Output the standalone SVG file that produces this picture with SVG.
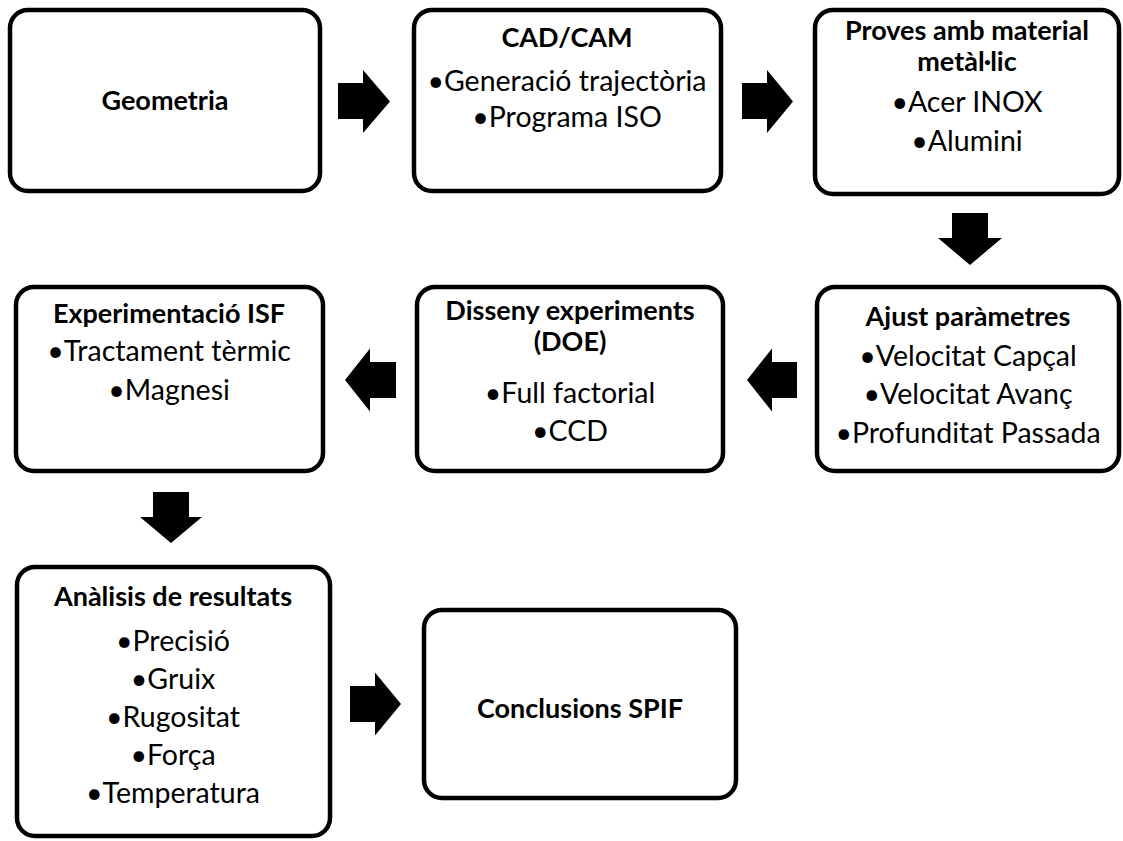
<svg xmlns="http://www.w3.org/2000/svg" width="1123" height="841" viewBox="0 0 1123 841">
<style>
.box{fill:#fff;stroke:#000;stroke-width:4.5}
.arr{fill:#000;stroke:none}
text{font-family:Lato,"Liberation Sans",sans-serif;font-size:28.5px;fill:#000;text-anchor:middle}
.t{font-weight:bold;font-size:27px}
</style>
<rect width="1123" height="841" fill="#fff"/>
<g id="connectors">
<polygon class="arr" points="338,83 363,83 363,70 390,101.5 363,133 363,119 338,119"/>
<polygon class="arr" points="742,83 767,83 767,70 793,101.5 767,133 767,119 742,119"/>
<polygon class="arr" points="952,213 988,213 988,238 1002,238 970,265 938,238 952,238"/>
<polygon class="arr" points="747,380 772,348.5 772,362 797,362 797,398 772,398 772,411.5"/>
<polygon class="arr" points="345,380 370,348.5 370,362 396,362 396,398 370,398 370,411.5"/>
<polygon class="arr" points="153,492 189,492 189,517 202,517 171,543 140,517 153,517"/>
<polygon class="arr" points="350,686 375,686 375,672.5 401,704 375,735.5 375,722 350,722"/>
</g>
<g id="geometria">
<rect class="box" x="10" y="10" width="310" height="181" rx="18"/>
<text class="t" x="165" y="110">Geometria</text>
</g>
<g id="cadcam">
<rect class="box" x="414" y="10" width="307" height="181" rx="18"/>
<text class="t" x="567" y="47">CAD/CAM</text>
<text x="567" y="91">•Generació trajectòria</text>
<text x="567" y="127">•Programa ISO</text>
</g>
<g id="proves">
<rect class="box" x="815" y="10" width="304" height="184" rx="18"/>
<text class="t" x="967" y="40">Proves amb material</text>
<text class="t" x="967" y="71">metàl·lic</text>
<text x="967" y="112">•Acer INOX</text>
<text x="967" y="151">•Alumini</text>
</g>
<g id="ajust">
<rect class="box" x="817" y="287" width="302" height="184" rx="18"/>
<text class="t" x="968" y="326">Ajust paràmetres</text>
<text x="968" y="366">•Velocitat Capçal</text>
<text x="968" y="404">•Velocitat Avanç</text>
<text x="968" y="443">•Profunditat Passada</text>
</g>
<g id="disseny">
<rect class="box" x="417" y="287" width="306" height="184" rx="18"/>
<text class="t" x="570" y="320">Disseny experiments</text>
<text class="t" x="570" y="351">(DOE)</text>
<text x="570" y="403">•Full factorial</text>
<text x="570" y="441">•CCD</text>
</g>
<g id="experimentacio">
<rect class="box" x="16" y="287" width="307" height="184" rx="18"/>
<text class="t" x="169" y="323">Experimentació ISF</text>
<text x="169" y="361">•Tractament tèrmic</text>
<text x="169" y="400">•Magnesi</text>
</g>
<g id="analisis">
<rect class="box" x="17" y="567" width="313" height="269" rx="18"/>
<text class="t" x="173" y="606">Anàlisis de resultats</text>
<text x="173" y="651">•Precisió</text>
<text x="173" y="689">•Gruix</text>
<text x="173" y="727">•Rugositat</text>
<text x="173" y="765">•Força</text>
<text x="173" y="803">•Temperatura</text>
</g>
<g id="conclusions">
<rect class="box" x="424" y="610" width="312" height="188" rx="18"/>
<text class="t" x="580" y="718">Conclusions SPIF</text>
</g>
</svg>
